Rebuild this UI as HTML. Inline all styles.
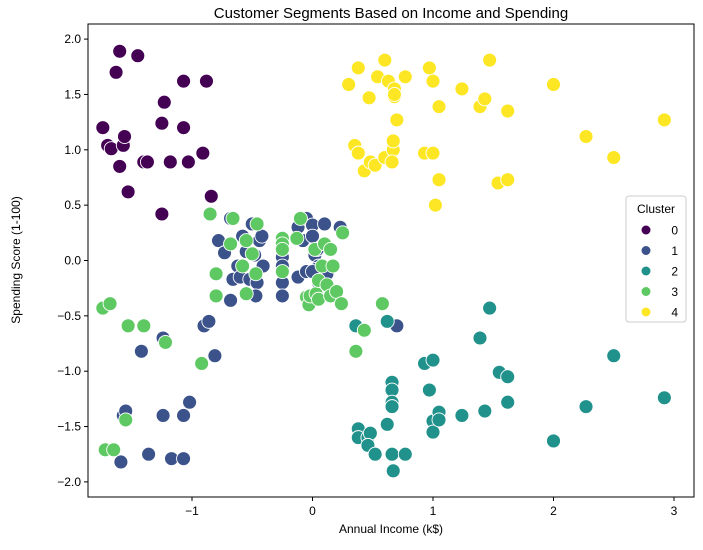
<!DOCTYPE html>
<html><head><meta charset="utf-8"><style>body{margin:0;background:#fff}svg text{font-family:"Liberation Sans","DejaVu Sans",sans-serif}</style></head>
<body>
<svg id="chart" width="703" height="545" xmlns="http://www.w3.org/2000/svg"></svg>
<script>
const clusters=[0,1,2,3,4];
const colors=["#440154","#3b528b","#21918c","#5ec962","#fde725"];
const xTicks=[-1,0,1,2,3];
const yTicks=[-2.0,-1.5,-1.0,-0.5,0.0,0.5,1.0,1.5,2.0];
const c0=[[-1.6,1.89],[-1.45,1.85],[-1.63,1.70],[-1.74,1.20],[-1.7,1.04],[-1.67,1.01],[-1.57,1.04],[-1.56,1.12],[-1.6,0.85],[-1.53,0.62],[-1.4,0.89],[-1.37,0.89],[-1.23,1.43],[-1.25,1.24],[-1.18,0.89],[-1.07,1.62],[-1.07,1.20],[-1.03,0.89],[-0.88,1.62],[-0.91,0.97],[-0.84,0.58],[-1.25,0.42]];
const c1=[[-0.9,-0.59],[-0.86,-0.55],[-0.81,-0.86],[-1.42,-0.82],[-1.24,-0.70],[-1.57,-1.40],[-1.55,-1.36],[-1.59,-1.82],[-1.36,-1.75],[-1.24,-1.40],[-1.17,-1.79],[-1.07,-1.79],[-1.07,-1.40],[-1.02,-1.28],[0.7,-0.59],[-0.78,0.18],[-0.73,0.07],[-0.68,0.38],[-0.66,-0.17],[-0.68,-0.36],[-0.62,-0.05],[-0.6,-0.15],[-0.58,0.22],[-0.55,0.08],[-0.52,-0.17],[-0.5,0.33],[-0.48,0.05],[-0.46,-0.2],[-0.44,0.18],[-0.42,0.22],[-0.41,-0.05],[-0.47,-0.32],[-0.25,0.18],[-0.25,0.03],[-0.25,-0.05],[-0.25,-0.2],[-0.25,-0.32],[-0.12,0.3],[-0.12,-0.15],[-0.08,0.18],[-0.05,0.38],[-0.05,-0.1],[0,0.32],[0,0.22],[0.02,0.05],[0.04,0.1],[0.05,-0.05],[0.05,-0.2],[0.08,-0.3],[0.1,0.33],[0.12,-0.12],[0.15,-0.28],[0.18,-0.28],[0.23,0.3],[0.03,-0.08],[0.0,-0.1]];
const c2=[[0.36,-0.59],[0.62,-0.55],[0.93,-0.93],[1.0,-0.9],[0.97,-1.17],[0.66,-1.10],[0.66,-1.17],[0.66,-1.28],[0.66,-1.32],[0.38,-1.52],[0.38,-1.60],[0.46,-1.60],[0.48,-1.56],[0.46,-1.67],[0.52,-1.75],[0.62,-1.48],[0.66,-1.75],[0.67,-1.90],[0.77,-1.75],[1.0,-1.45],[1.0,-1.55],[1.05,-1.37],[1.05,-1.44],[1.24,-1.40],[1.43,-1.36],[1.39,-0.70],[1.47,-0.43],[1.55,-1.01],[1.62,-1.05],[1.62,-1.28],[2.0,-1.63],[2.27,-1.32],[2.5,-0.86],[2.92,-1.24]];
const c3=[[-0.85,0.42],[-0.66,0.38],[-0.68,0.15],[-0.8,-0.12],[-0.8,-0.32],[-0.58,-0.05],[-0.55,0.18],[-0.55,-0.3],[-0.5,0.06],[-0.47,-0.12],[-0.46,0.33],[-0.25,0.2],[-0.25,0.15],[-0.25,0.1],[-0.25,-0.1],[-0.13,0.2],[-0.1,0.38],[-0.05,-0.33],[-0.03,-0.4],[-0.02,-0.32],[0.02,0.1],[0.03,-0.3],[0.05,-0.18],[0.05,-0.35],[0.08,-0.05],[0.1,0.15],[0.12,-0.22],[0.15,0.1],[0.15,-0.32],[0.2,-0.28],[0.24,-0.39],[0.25,0.25],[0.17,-0.05],[0.58,-0.39],[0.36,-0.82],[0.43,-0.63],[-1.74,-0.43],[-1.68,-0.39],[-1.53,-0.59],[-1.4,-0.59],[-1.22,-0.74],[-0.92,-0.93],[-1.55,-1.44],[-1.72,-1.71],[-1.65,-1.71]];
const c4=[[0.3,1.59],[0.38,1.74],[0.47,1.47],[0.54,1.66],[0.6,1.81],[0.63,1.62],[0.68,1.55],[0.68,1.48],[0.7,1.27],[0.77,1.66],[0.97,1.74],[1.0,1.62],[1.05,1.39],[1.24,1.55],[1.39,1.39],[1.43,1.46],[1.47,1.81],[1.62,1.35],[2.0,1.59],[2.27,1.12],[2.5,0.93],[2.92,1.27],[0.35,1.04],[0.38,0.97],[0.43,0.81],[0.48,0.89],[0.52,0.86],[0.6,0.93],[0.67,1.0],[0.67,1.08],[0.66,0.89],[0.93,0.97],[1.0,0.97],[1.02,0.5],[1.05,0.73],[1.54,0.70],[1.62,0.73],[0.68,1.5]];
const series=[c0,c1,c2,c3,c4];
const NS="http://www.w3.org/2000/svg";
const svg=document.getElementById('chart');
const L=88,R=694,T=24,B=497;
const X=v=>312.5+v*120.5;
const Y=v=>260.5-v*110.7;
function mk(tag,a,p){const e=document.createElementNS(NS,tag);for(const k in a)e.setAttribute(k,a[k]);(p||svg).appendChild(e);return e;}
const title=mk('text',{x:(L+R)/2,y:18,'text-anchor':'middle','font-size':15,fill:'#000'});title.textContent='Customer Segments Based on Income and Spending';


const pts=mk('g',{});


series.forEach((s,i)=>s.forEach(p=>{const c=mk('circle',{cx:X(p[0]),cy:Y(p[1]),r:7,fill:colors[i],stroke:'#fff','stroke-width':0.9},pts);

}));
const frame=mk('rect',{x:L,y:T,width:R-L,height:B-T,fill:'none',stroke:'#000','stroke-width':1});


xTicks.forEach(t=>{const x=X(t);mk('line',{x1:x,x2:x,y1:B,y2:B+4,stroke:'#000'});const tx=mk('text',{x:x,y:B+18,'text-anchor':'middle','font-size':12});tx.textContent=t<0?'\u2212'+Math.abs(t):t;

});
yTicks.forEach(t=>{const y=Y(t);mk('line',{x1:L-4,x2:L,y1:y,y2:y,stroke:'#000'});const tx=mk('text',{x:L-7,y:y+4,'text-anchor':'end','font-size':12});tx.textContent=(t<0?'\u2212':'')+Math.abs(t).toFixed(1);

});
const xt=mk('text',{x:(L+R)/2,y:533,'text-anchor':'middle','font-size':12});xt.textContent='Annual Income (k$)';


const yt=mk('text',{x:0,y:0,'text-anchor':'middle','font-size':12,transform:'translate(20,260) rotate(-90)'});yt.textContent='Spending Score (1-100)';


const lg=mk('g',{});


mk('rect',{x:626,y:196,width:60,height:126,rx:3,fill:'#fff','fill-opacity':0.85,stroke:'#ccc'},lg);
const lt=mk('text',{x:656,y:213,'text-anchor':'middle','font-size':12},lg);lt.textContent='Cluster';
clusters.forEach((c,i)=>{const y=230+i*20.5;mk('circle',{cx:646,cy:y,r:4.5,fill:colors[i]},lg);const t=mk('text',{x:678,y:y+4.5,'text-anchor':'end','font-size':12},lg);t.textContent=c;

});
</script>
</body></html>
